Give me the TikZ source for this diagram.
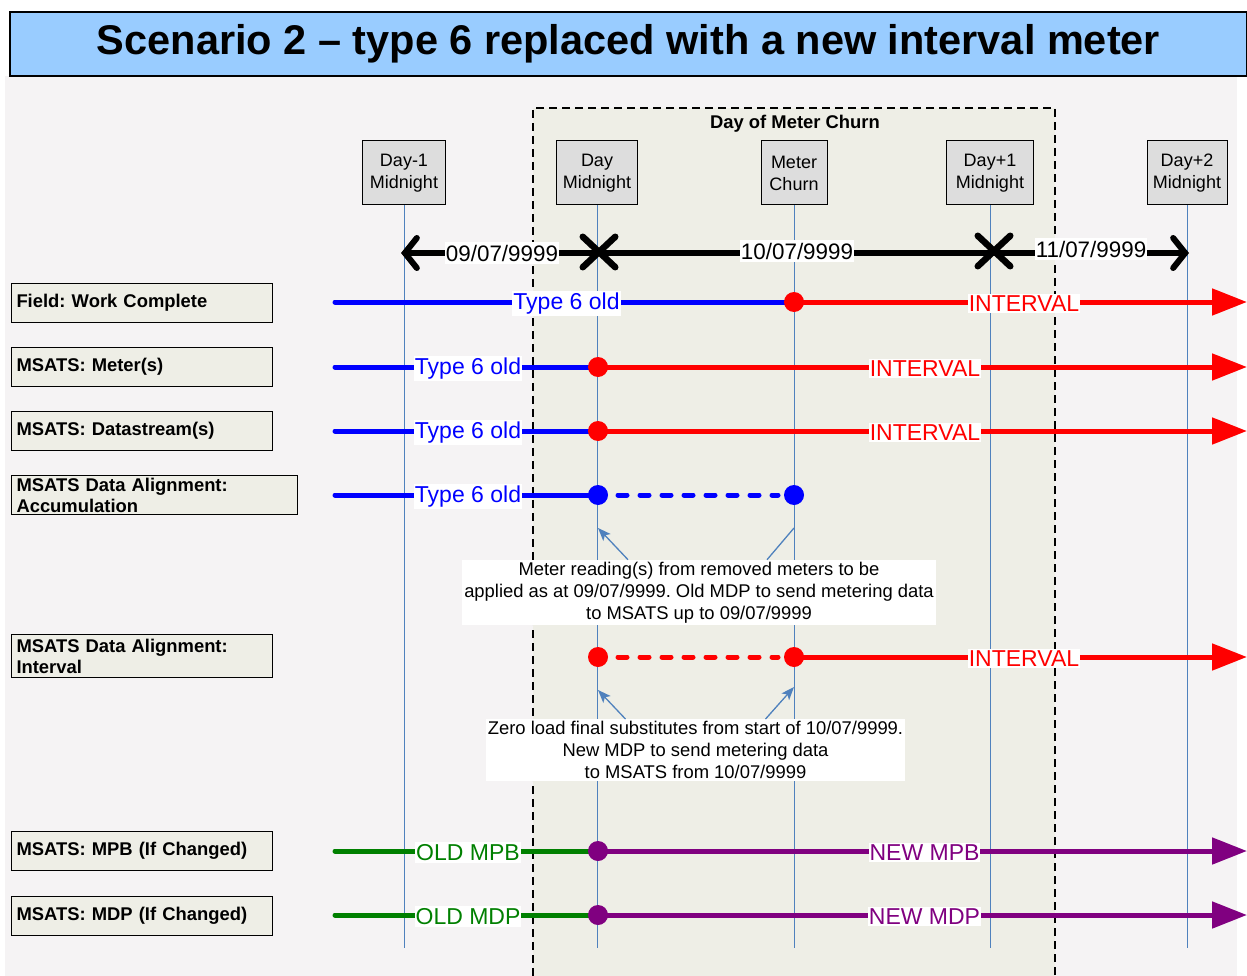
\documentclass[tikz,border=0pt]{standalone}
\usepackage{fontspec}
\setmainfont{Liberation Sans}
\usetikzlibrary{arrows.meta,shapes.misc}
\definecolor{bggray}{HTML}{F5F3F4}
\definecolor{churnfill}{HTML}{EEEEE6}
\definecolor{titleblue}{HTML}{99CCFF}
\definecolor{vline}{HTML}{4F81BD}
\definecolor{boxgray}{HTML}{DDDDDD}
\definecolor{mblue}{HTML}{0000FF}
\definecolor{mred}{HTML}{FF0000}
\definecolor{mgreen}{HTML}{008000}
\definecolor{mpurple}{HTML}{800080}
\newcommand\setfs[2]{\fontsize{#1}{#2}\selectfont}
\frenchspacing
\begin{document}
\begin{tikzpicture}[x=1pt,y=-1pt,
  titlebox/.style={draw=black,line width=1.5pt,fill=titleblue,minimum width=1237pt,minimum height=64pt,inner sep=0pt,font=\bfseries\setfs{41.5}{46}},
  topbox/.style={draw=black,line width=1pt,fill=boxgray,minimum height=64pt,inner sep=0pt,align=center,font=\setfs{18}{22}},
  rowlabel/.style={draw=black,line width=1pt,fill=churnfill,anchor=north west,align=left,inner xsep=5pt,inner ysep=0pt,font=\bfseries\setfs{18.4}{21}},
  vguide/.style={draw=vline,line width=1pt},
  tl/.style={line width=5pt,line cap=round},
  tlarrow/.style={line width=5pt,-{Triangle[length=35pt,width=26pt]}},
  dotted line/.style={line width=5pt,line cap=round,dash pattern=on 9pt off 13pt},
  dot/.style={circle,inner sep=0pt,minimum size=20pt},
  lbl/.style={fill=white,inner xsep=1pt,inner ysep=2pt,yshift=-1.5pt,font=\setfs{23}{26}},
  datelbl/.style={fill=white,inner xsep=1pt,inner ysep=3pt,font=\setfs{22.4}{25},text=black},
  xmark/.style={cross out,draw=black,line width=6.5pt,line cap=round,minimum width=26pt,minimum height=24pt,inner sep=0pt},
  annot/.style={fill=white,inner sep=2pt,align=center,font=\setfs{18.4}{22}},
  annarrow/.style={draw=vline,line width=1.3pt,-{Stealth[length=13pt,width=10pt,inset=3pt]}},
  annline/.style={draw=vline,line width=1.3pt}
]
\useasboundingbox (0,0) rectangle (1247,976);
\fill[white] (0,0) rectangle (1247,976);
\fill[bggray] (5,76) rectangle (1237,976);
% day of meter churn region
\fill[churnfill] (533,108) rectangle (1055,976);
\draw[black,line width=1.5pt,dash pattern=on 8pt off 5pt] (533,976) -- (533,108) -- (1055,108) -- (1055,976);
\node[font=\bfseries\setfs{18.4}{20}] (churnlbl) at (795,124) {Day of Meter Churn};
% title
\node[titlebox] (title) at (628.5,44) {\raisebox{-2pt}{Scenario 2 -- type 6 replaced with a new interval meter}};
% top boxes
\node[topbox,minimum width=83pt] (b1) at (404,173) {Day-1\\Midnight};
\node[topbox,minimum width=81pt] (b2) at (597,173) {Day\\Midnight};
\node[topbox,minimum width=66pt] (b3) at (794,173) {Meter\\Churn};
\node[topbox,minimum width=87pt] (b4) at (990,173) {Day+1\\Midnight};
\node[topbox,minimum width=80pt] (b5) at (1187,173) {Day+2\\Midnight};
\coordinate (e1) at (404,948);
\coordinate (e2) at (597,948);
\coordinate (e3) at (794,948);
\coordinate (e4) at (990,948);
\coordinate (e5) at (1187,948);
\draw[vguide] (b1.south) -- (e1);
\draw[vguide] (b2.south) -- (e2);
\draw[vguide] (b3.south) -- (e3);
\draw[vguide] (b4.south) -- (e4);
\draw[vguide] (b5.south) -- (e5);
% date arrow
\coordinate (dl) at (401,253);
\coordinate (dr) at (1189,253);
\draw[line width=6pt,{Straight Barb[length=12pt,width=30pt,line cap=round]}-{Straight Barb[length=12pt,width=30pt,line cap=round]}] (dl) -- (dr);
\node[datelbl] (d1) at (502,253) {09/07/9999};
\node[datelbl] (d2) at (797,251) {10/07/9999};
\node[datelbl] (d3) at (1091,249) {11/07/9999};
\node[xmark] (x1) at (599,252) {};
\node[xmark] (x2) at (994,251) {};
% row labels
\node[rowlabel,minimum height=39pt,text width=251pt] (L1) at (11,283) {\raisebox{-1.5pt}{Field: Work Complete}};
\node[rowlabel,minimum height=39pt,text width=251pt] (L2) at (11,347) {\raisebox{-1.5pt}{MSATS: Meter(s)}};
\node[rowlabel,minimum height=39pt,text width=251pt] (L3) at (11,411) {\raisebox{-1.5pt}{MSATS: Datastream(s)}};
\node[rowlabel,minimum height=39pt,text width=276pt] (L4) at (11,475) {MSATS Data Alignment:\\Accumulation};
\node[rowlabel,minimum height=43pt,text width=251pt] (L5) at (11,634) {MSATS Data Alignment:\\Interval};
\node[rowlabel,minimum height=39pt,text width=251pt] (L6) at (11,831) {\raisebox{-1.5pt}{MSATS: MPB (If Changed)}};
\node[rowlabel,minimum height=39pt,text width=251pt] (L7) at (11,896) {\raisebox{-1.5pt}{MSATS: MDP (If Changed)}};
% row coordinates
\coordinate (s1) at (335,302); \coordinate (c1) at (794,302); \coordinate (z1) at (1247,302);
\coordinate (s2) at (335,367); \coordinate (c2) at (598,367); \coordinate (z2) at (1247,367);
\coordinate (s3) at (335,431); \coordinate (c3) at (598,431); \coordinate (z3) at (1247,431);
\coordinate (s4) at (335,495); \coordinate (c4) at (598,495); \coordinate (k4) at (794,495);
\coordinate (c5) at (598,657); \coordinate (k5) at (794,657); \coordinate (z5) at (1247,657);
\coordinate (s6) at (335,851); \coordinate (c6) at (598,851); \coordinate (z6) at (1247,851);
\coordinate (s7) at (335,915); \coordinate (c7) at (598,915); \coordinate (z7) at (1247,915);
% row lines
\draw[tl,mblue] (s1) -- (c1);
\draw[tlarrow,mred] (c1) -- (z1);
\draw[tl,mblue] (s2) -- (c2);
\draw[tlarrow,mred] (c2) -- (z2);
\draw[tl,mblue] (s3) -- (c3);
\draw[tlarrow,mred] (c3) -- (z3);
\draw[tl,mblue] (s4) -- (c4);
\draw[dotted line,mblue] ([xshift=20pt]c4) -- ([xshift=-16pt]k4);
\draw[dotted line,mred] ([xshift=20pt]c5) -- ([xshift=-16pt]k5);
\draw[tlarrow,mred] (k5) -- (z5);
\draw[tl,mgreen] (s6) -- (c6);
\draw[tlarrow,mpurple] (c6) -- (z6);
\draw[tl,mgreen] (s7) -- (c7);
\draw[tlarrow,mpurple] (c7) -- (z7);
% dots
\node[dot,fill=mred] (p1) at (c1) {};
\node[dot,fill=mred] (p2) at (c2) {};
\node[dot,fill=mred] (p3) at (c3) {};
\node[dot,fill=mblue] (p4) at (c4) {};
\node[dot,fill=mblue] (q4) at (k4) {};
\node[dot,fill=mred] (p5) at (c5) {};
\node[dot,fill=mred] (q5) at (k5) {};
\node[dot,fill=mpurple] (p6) at (c6) {};
\node[dot,fill=mpurple] (p7) at (c7) {};
% line labels
\node[lbl,text=mblue] (t1a) at (566.5,302) {Type 6 old};
\node[lbl,text=mred] (t1b) at (1024,302) {INTERVAL};
\node[lbl,text=mblue] (t2a) at (468,367) {Type 6 old};
\node[lbl,text=mred] (t2b) at (925,367) {INTERVAL};
\node[lbl,text=mblue] (t3a) at (468,431) {Type 6 old};
\node[lbl,text=mred] (t3b) at (925,431) {INTERVAL};
\node[lbl,text=mblue] (t4a) at (468,495) {Type 6 old};
\node[lbl,text=mred] (t5b) at (1024,657) {INTERVAL};
\node[lbl,text=mgreen] (t6a) at (468,851) {OLD MPB};
\node[lbl,text=mpurple] (t6b) at (924.5,851) {NEW MPB};
\node[lbl,text=mgreen] (t7a) at (468,915) {OLD MDP};
\node[lbl,text=mpurple] (t7b) at (924.5,915) {NEW MDP};
% annotations
\node[annot] (n1) at (699,592.5) {Meter reading(s) from removed meters to be\\applied as at 09/07/9999. Old MDP to send metering data\\to MSATS up to 09/07/9999};
\node[annot] (n2) at (695.5,750) {Zero load final substitutes from start of 10/07/9999.\\New MDP to send metering data\\to MSATS from 10/07/9999};
\coordinate (a1) at (598,528);
\coordinate (a2) at (794,528);
\coordinate (a3) at (598,690);
\coordinate (a4) at (794,687);
\draw[annarrow] ([xshift=-71pt]n1.north) -- (a1);
\draw[annline] ([xshift=68pt]n1.north) -- (a2);
\draw[annarrow] ([xshift=-70pt]n2.north) -- (a3);
\draw[annarrow] ([xshift=70pt]n2.north) -- (a4);
\end{tikzpicture}
\end{document}
